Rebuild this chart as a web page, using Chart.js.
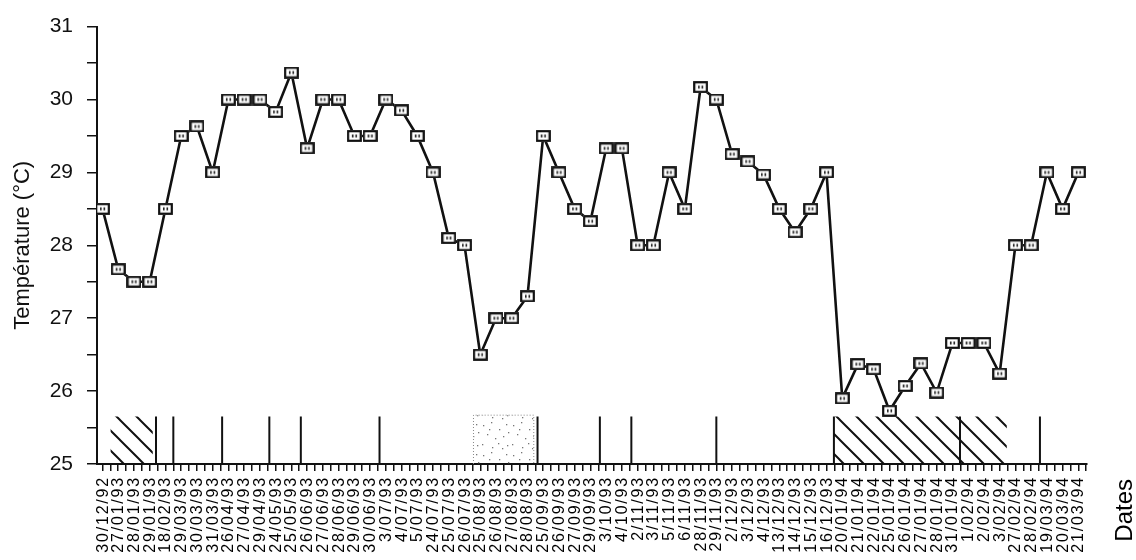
<!DOCTYPE html>
<html>
<head>
<meta charset="utf-8">
<script src="https://cdn.jsdelivr.net/npm/chart.js@4"></script>
<style>
  html, body { margin: 0; padding: 0; background: #fff; }
  canvas { display: block; }
</style>
</head>
<body>
<canvas id="tempChart" width="1136" height="560"></canvas>
<script>
// sampling dates (x categories)
const sampleDates = [
  '30/12/92', '27/01/93', '28/01/93', '29/01/93', '18/02/93', '29/03/93', '30/03/93', '31/03/93',
  '26/04/93', '27/04/93', '29/04/93', '24/05/93', '25/05/93', '26/06/93', '27/06/93', '28/06/93',
  '29/06/93', '30/06/93', '3/07/93', '4/07/93', '5/07/93', '24/07/93', '25/07/93', '26/07/93',
  '25/08/93', '26/08/93', '27/08/93', '28/08/93', '25/09/93', '26/09/93', '27/09/93', '29/09/93',
  '3/10/93', '4/10/93', '2/11/93', '3/11/93', '5/11/93', '6/11/93', '28/11/93', '29/11/93',
  '2/12/93', '3/12/93', '4/12/93', '13/12/93', '14/12/93', '15/12/93', '16/12/93', '20/01/94',
  '21/01/94', '22/01/94', '25/01/94', '26/01/94', '27/01/94', '28/01/94', '31/01/94', '1/02/94',
  '2/02/94', '3/02/94', '27/02/94', '28/02/94', '19/03/94', '20/03/94', '21/03/94'
];

// water temperature (°C)
const temps = [
  28.5, 27.67, 27.5, 27.5, 28.5, 29.5, 29.63, 29.0, 30.0, 30.0,
  30.0, 29.83, 30.37, 29.33, 30.0, 30.0, 29.5, 29.5, 30.0, 29.85,
  29.5, 29.0, 28.1, 28.0, 26.5, 27.0, 27.0, 27.3, 29.5, 29.0,
  28.5, 28.33, 29.33, 29.33, 28.0, 28.0, 29.0, 28.5, 30.17, 30.0,
  29.25, 29.15, 28.97, 28.5, 28.18, 28.5, 29.0, 25.9, 26.37, 26.3,
  25.73, 26.07, 26.38, 25.98, 26.66, 26.66, 26.66, 26.24, 28.0, 28.0,
  29.0, 28.5, 29.0
];

// event markers along the bottom (positions in date-index units)
const eventLines = [3.4, 4.5, 7.6, 10.6, 12.6, 17.6, 27.64, 31.6, 33.6, 39.0, 46.47, 54.48, 59.56];
const hatchPeriods = [[0.5, 3.2], [46.47, 57.46]];
const stipplePeriods = [[23.57, 27.4]];
const markerTop = 25.65;

const yTicks = [25, 26, 27, 28, 29, 30, 31];

function hatchPattern() {
  const c = document.createElement('canvas');
  c.width = 20; c.height = 20;
  const g = c.getContext('2d');
  g.strokeStyle = '#111';
  g.lineWidth = 2;
  g.beginPath();
  g.moveTo(-5, -5); g.lineTo(25, 25);
  g.moveTo(-15, 5); g.lineTo(15, 35);
  g.moveTo(5, -15); g.lineTo(35, 15);
  g.stroke();
  return g.createPattern(c, 'repeat');
}

function stipplePattern() {
  const c = document.createElement('canvas');
  c.width = 30; c.height = 30;
  const g = c.getContext('2d');
  g.fillStyle = '#777';
  [[3, 5], [11, 2], [19, 9], [26, 4], [7, 14], [15, 18], [23, 16], [2, 24],
   [12, 27], [27, 25], [18, 23], [9, 9], [22, 28], [28, 12]].forEach(([px, py]) => {
    g.fillRect(px, py, 1.3, 1.3);
  });
  return g.createPattern(c, 'repeat');
}

function squareMarker() {
  const c = document.createElement('canvas');
  c.width = 15; c.height = 12;
  const g = c.getContext('2d');
  g.fillStyle = '#fff';
  g.fillRect(0, 0, 15, 12);
  g.strokeStyle = '#111';
  g.lineWidth = 2.2;
  g.strokeRect(1.2, 1.2, 12.6, 9.6);
  g.fillStyle = '#222';
  g.fillRect(5, 4.5, 1.6, 3);
  g.fillRect(8.5, 4.5, 1.6, 3);
  return c;
}

// vertical event lines, split with nulls
const lineData = [];
eventLines.forEach(p => {
  lineData.push({ x: p, y: 25 }, { x: p, y: markerTop }, { x: p, y: null });
});

const periodSets = [];
hatchPeriods.forEach(([a, b]) => {
  periodSets.push({
    data: [{ x: a, y: markerTop }, { x: b, y: markerTop }],
    borderWidth: 0,
    pointRadius: 0,
    fill: { value: 25 },
    backgroundColor: hatchPattern(),
    order: 3
  });
});
stipplePeriods.forEach(([a, b]) => {
  periodSets.push({
    data: [{ x: a, y: 25 }, { x: a, y: markerTop + 0.02 }, { x: b, y: markerTop + 0.02 }, { x: b, y: 25 }],
    borderWidth: 1,
    borderColor: '#888',
    borderDash: [1, 2],
    pointRadius: 0,
    fill: { value: 25 },
    backgroundColor: stipplePattern(),
    order: 3
  });
});

const dateLabels = {
  id: 'dateLabels',
  afterDraw(chart) {
    const { ctx, scales: { x } } = chart;
    ctx.save();
    ctx.font = '16px "Liberation Sans", Arial, sans-serif';
    ctx.letterSpacing = '1.8px';
    ctx.fillStyle = '#000';
    ctx.textAlign = 'right';
    ctx.textBaseline = 'alphabetic';
    sampleDates.forEach((d, i) => {
      ctx.save();
      ctx.translate(x.getPixelForValue(i) + 5, 476);
      ctx.rotate(-Math.PI / 2);
      ctx.fillText(d, 0, 0);
      ctx.restore();
    });
    ctx.letterSpacing = '0px';
    ctx.font = '24px "Liberation Sans", Arial, sans-serif';
    ctx.translate(1132, 479);
    ctx.rotate(-Math.PI / 2);
    ctx.fillText('Dates', 0, 0);
    ctx.restore();
  }
};

new Chart(document.getElementById('tempChart').getContext('2d'), {
  type: 'line',
  data: {
    datasets: [
      {
        data: temps.map((v, i) => ({ x: i, y: v })),
        borderColor: '#111',
        borderWidth: 2.6,
        tension: 0,
        pointStyle: squareMarker(),
        order: 1
      },
      {
        data: lineData,
        borderColor: '#111',
        borderWidth: 2,
        pointRadius: 0,
        spanGaps: false,
        order: 2
      },
      ...periodSets
    ]
  },
  options: {
    responsive: false,
    animation: false,
    layout: { padding: { top: 16, right: 49, left: 0, bottom: 0 } },
    plugins: { legend: { display: false }, tooltip: { enabled: false } },
    scales: {
      x: {
        type: 'linear',
        min: -0.35,
        max: 62.55,
        afterBuildTicks: s => {
          const t = [];
          for (let i = 0; i <= 125; i++) t.push({ value: i / 2 });
          s.ticks = t;
        },
        afterFit: s => { s.height = 96; },
        ticks: { display: false },
        grid: { drawOnChartArea: false, color: '#111', lineWidth: 1.5, tickLength: 7 },
        border: { color: '#111', width: 2 }
      },
      y: {
        min: 25,
        max: 31,
        afterBuildTicks: s => {
          const t = [];
          for (let v = yTicks[0]; v <= yTicks[yTicks.length - 1]; v += 0.5) t.push({ value: v });
          s.ticks = t;
        },
        afterFit: s => { s.width = 97; },
        ticks: {
          callback: v => (yTicks.includes(v) ? v : ''),
          color: '#111',
          padding: 14,
          font: { size: 21, family: '"Liberation Sans", Arial, sans-serif' }
        },
        grid: { drawOnChartArea: false, color: '#111', lineWidth: 1.5, tickLength: 10 },
        border: { color: '#111', width: 2 },
        title: {
          display: true,
          text: 'Température (°C)',
          color: '#111',
          padding: { top: 10 },
          font: { size: 22, family: '"Liberation Sans", Arial, sans-serif' }
        }
      }
    }
  },
  plugins: [dateLabels]
});
</script>
</body>
</html>
